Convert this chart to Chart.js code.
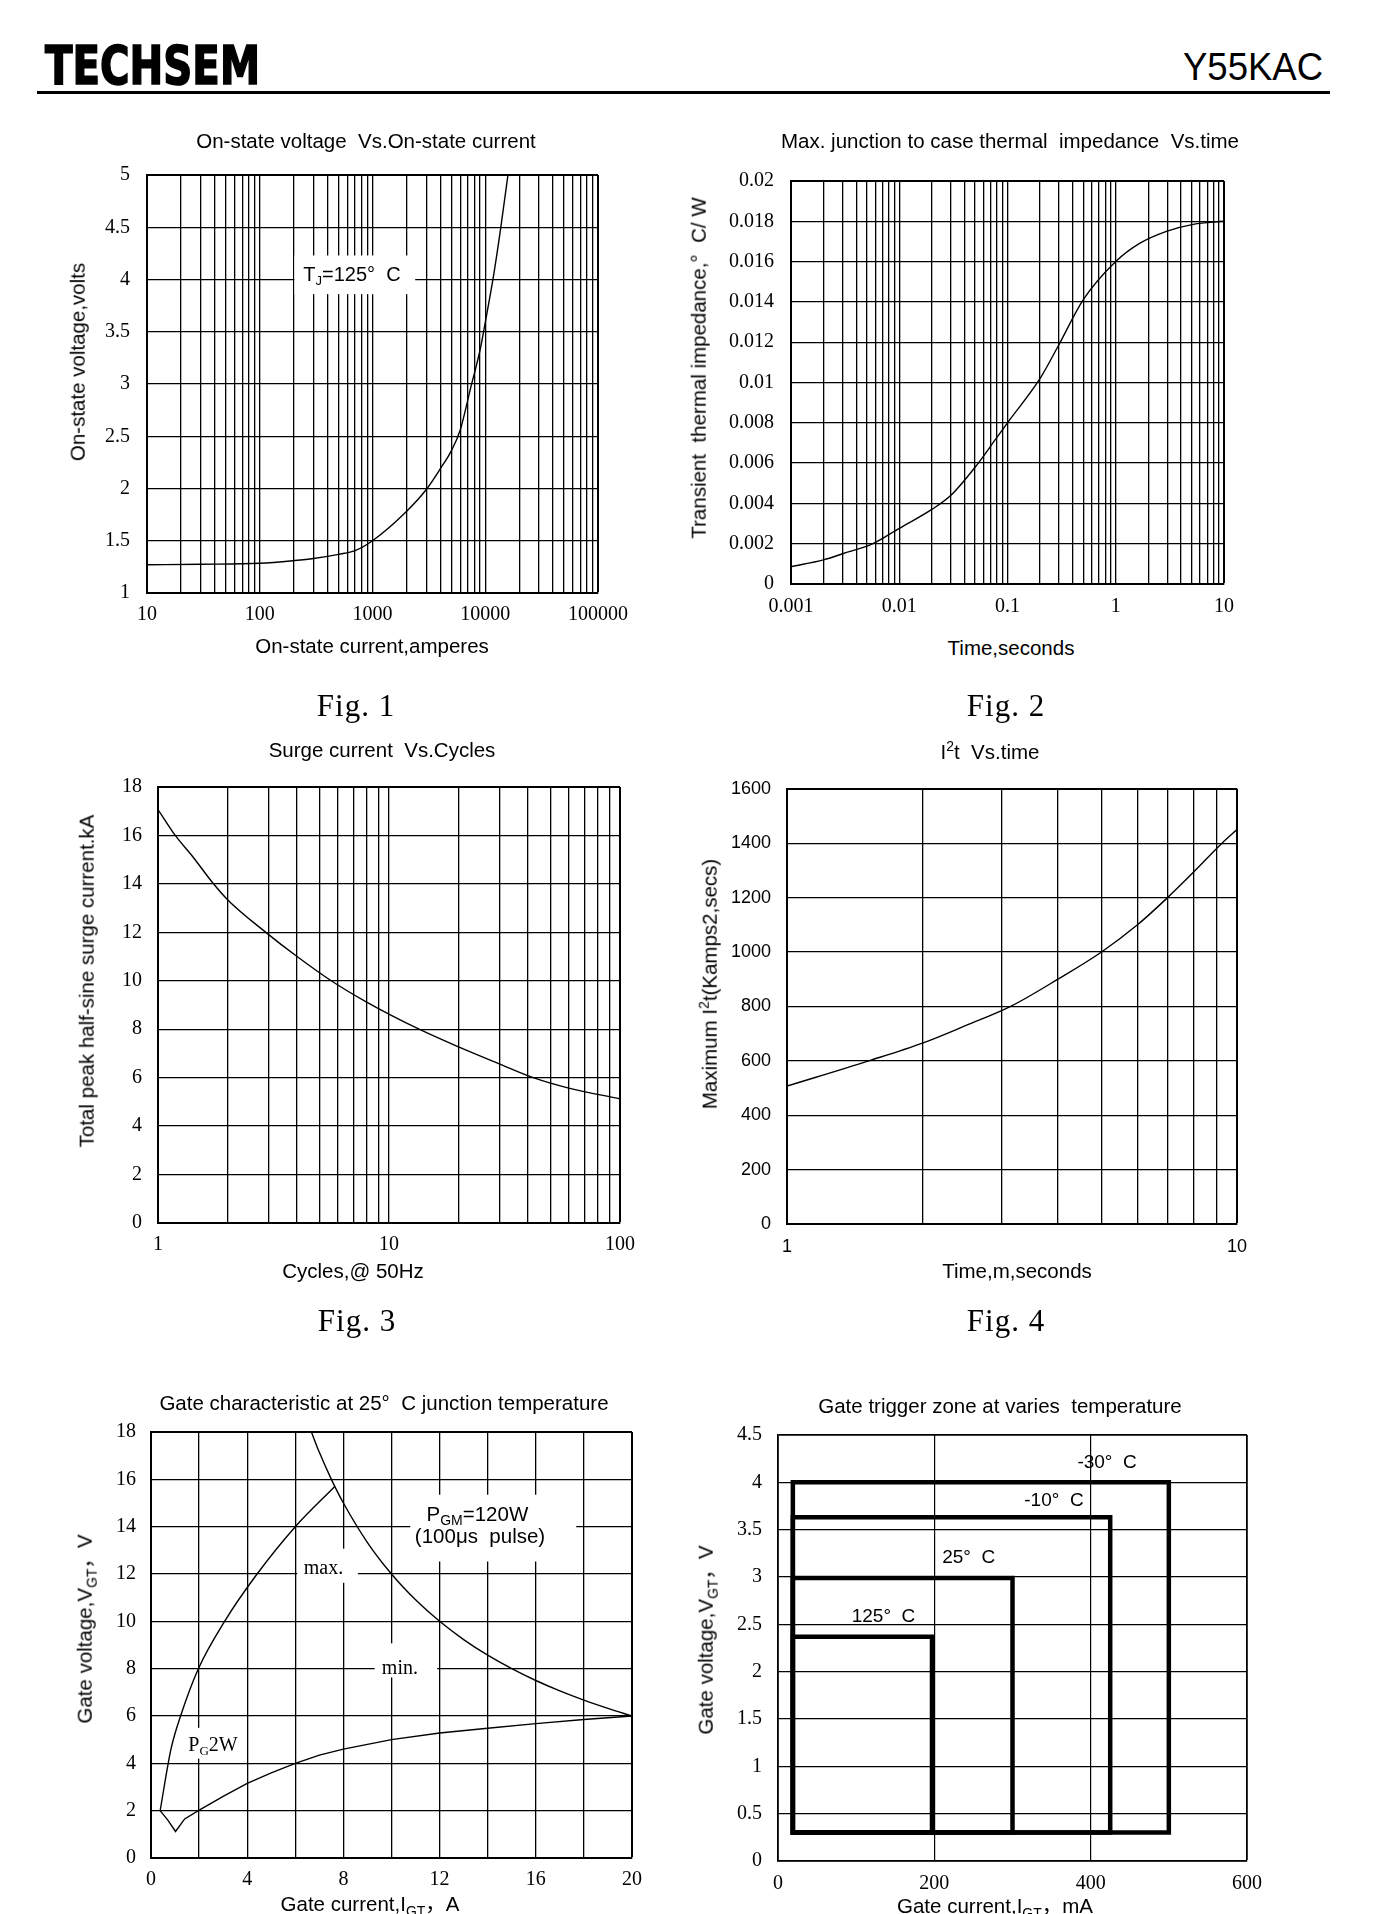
<!DOCTYPE html>
<html><head><meta charset="utf-8">
<script src="https://cdn.jsdelivr.net/npm/chart.js@4.4.1/dist/chart.umd.min.js"></script>
<style>
html,body{margin:0;padding:0;background:#fff;}
body{width:1376px;height:1914px;position:relative;overflow:hidden;font-family:"Liberation Sans",Arial,"Noto Sans CJK SC",sans-serif;color:#000;}
.abs{position:absolute;white-space:pre;line-height:1.2;}
.ttl{font-size:20.5px;transform:translate(-50%,-50%);}
.ytl{font-size:20.5px;transform:translate(-50%,-50%) rotate(-90deg);}
.fig{font-family:"Liberation Serif",serif;font-size:31px;letter-spacing:1px;transform:translate(-50%,-50%);}
sub,sup{font-size:0.68em;line-height:0;}
canvas{position:absolute;}
#logo{font-family:"Liberation Sans Narrow","DejaVu Sans Condensed","Liberation Sans",sans-serif;font-weight:bold;font-size:54px;line-height:1;left:45px;top:39px;transform-origin:left top;-webkit-text-stroke:1.6px #000;}
#part{font-family:"Liberation Sans",Arial,sans-serif;font-size:38px;line-height:1;left:1183px;top:48px;transform-origin:left top;}
#rule{position:absolute;left:37px;top:91px;width:1293px;height:2.5px;background:#000;}
</style></head><body>
<div id="logo" class="abs">TECHSEM</div>
<div id="part" class="abs">Y55KAC</div>
<div id="rule"></div>

<script>
// ---------------- DATA ----------------
// Fig.1 On-state voltage vs on-state current (Tj=125°C)
const fig1Current = [10, 30, 100, 200, 300, 500, 700, 1000, 2000, 3000, 4000, 5000, 6000, 7450, 9060, 10200, 11900, 13700, 15900];
const fig1Voltage = [1.27, 1.275, 1.285, 1.31, 1.33, 1.37, 1.405, 1.5, 1.78, 1.99, 2.19, 2.36, 2.56, 2.97, 3.34, 3.64, 4.05, 4.49, 5.0];
const fig1XLabelValues = [10, 100, 1000, 10000, 100000];
const fig1XLabels = ['10', '100', '1000', '10000', '100000'];
const fig1YTicks = [1, 1.5, 2, 2.5, 3, 3.5, 4, 4.5, 5];
const fig1YLabels = ['1', '1.5', '2', '2.5', '3', '3.5', '4', '4.5', '5'];

// Fig.2 Transient thermal impedance vs time
const fig2Time = [0.001, 0.002, 0.003, 0.0057, 0.01, 0.02, 0.03, 0.052, 0.078, 0.1, 0.2, 0.3, 0.5, 1, 1.66, 2.94, 5.2, 10];
const fig2Zth = [0.00086, 0.0012, 0.0015, 0.002, 0.00276, 0.0037, 0.0044, 0.0059, 0.0072, 0.008, 0.0102, 0.0119, 0.0141, 0.016, 0.0169, 0.0175, 0.01785, 0.018];
const fig2XLabelValues = [0.001, 0.01, 0.1, 1, 10];
const fig2XLabels = ['0.001', '0.01', '0.1', '1', '10'];
const fig2YTicks = [0, 0.002, 0.004, 0.006, 0.008, 0.01, 0.012, 0.014, 0.016, 0.018, 0.02];
const fig2YLabels = ['0', '0.002', '0.004', '0.006', '0.008', '0.01', '0.012', '0.014', '0.016', '0.018', '0.02'];

// Fig.3 Surge current vs cycles
const fig3Cycles = [1, 1.188, 1.42, 1.707, 2, 2.93, 4, 5.62, 8, 13.5, 20, 30, 42.1, 60, 100];
const fig3Current = [17.07, 16.0, 15.1, 14.1, 13.35, 12.0, 11.0, 10.0, 9.12, 8.0, 7.27, 6.57, 6.0, 5.57, 5.13];
const fig3XLabelValues = [1, 10, 100];
const fig3XLabels = ['1', '10', '100'];
const fig3YTicks = [0, 2, 4, 6, 8, 10, 12, 14, 16, 18];
const fig3YLabels = ['0', '2', '4', '6', '8', '10', '12', '14', '16', '18'];

// Fig.4 I2t vs time
const fig4Time = [1, 1.52, 2, 2.5, 3.14, 4, 5, 6, 7, 8, 9.26, 10];
const fig4I2t = [507, 600, 665, 730, 800, 900, 1000, 1099, 1199, 1293, 1400, 1450];
const fig4XLabelValues = [1, 10];
const fig4XLabels = ['1', '10'];
const fig4YTicks = [0, 200, 400, 600, 800, 1000, 1200, 1400, 1600];
const fig4YLabels = ['0', '200', '400', '600', '800', '1000', '1200', '1400', '1600'];

// Fig.5 Gate characteristic at 25°C
const gatePgmCurrent = [6.67, 7, 7.5, 8, 9, 10, 11, 12, 13, 14, 15, 16, 17, 18, 19, 20];
const gatePgmVoltage = [18, 17.14, 16, 15, 13.33, 12, 10.91, 10, 9.23, 8.57, 8, 7.5, 7.06, 6.67, 6.32, 6.0];
const gateMaxCurrent = [0.38, 0.83, 1.23, 1.97, 3.06, 4.41, 6.0, 7.64];
const gateMaxVoltage = [2.0, 4.6, 6.0, 8.0, 10.0, 12.0, 14.0, 15.7];
const gateMinCurrent = [0.38, 0.7, 1.02, 1.4, 1.97, 3.0, 4.0, 5.0, 6.0, 7.0, 8.0, 10, 12, 14, 16, 18, 20];
const gateMinVoltage = [2.0, 1.6, 1.12, 1.65, 2.0, 2.6, 3.15, 3.6, 4.0, 4.35, 4.6, 5.0, 5.28, 5.48, 5.68, 5.85, 6.0];
const fig5XTicks = [0, 2, 4, 6, 8, 10, 12, 14, 16, 18, 20];
const fig5XLabels = ['0', '', '4', '', '8', '', '12', '', '16', '', '20'];
const fig5YTicks = [0, 2, 4, 6, 8, 10, 12, 14, 16, 18];
const fig5YLabels = ['0', '2', '4', '6', '8', '10', '12', '14', '16', '18'];

// Fig.6 Gate trigger zone at various temperatures
const zoneNames = ['-30°  C', '-10°  C', '25°  C', '125°  C'];
const zoneIgtMin = 19;
const zoneVgtMin = 0.3;
const zoneIgtMax = [500, 425, 300, 197];
const zoneVgtMax = [4.0, 3.63, 2.99, 2.37];
const fig6XTicks = [0, 200, 400, 600];
const fig6XLabels = ['0', '200', '400', '600'];
const fig6YTicks = [0, 0.5, 1, 1.5, 2, 2.5, 3, 3.5, 4, 4.5];
const fig6YLabels = ['0', '0.5', '1', '1.5', '2', '2.5', '3', '3.5', '4', '4.5'];

// ---------------- HELPERS ----------------
const SERIF = '"Liberation Serif", "DejaVu Serif", serif';
const SANS = '"Liberation Sans", Arial, sans-serif';
const TICK = 20;

function logGridValues(minV, maxV) {
  const out = [];
  for (let d = minV; d < maxV * 0.999; d *= 10) {
    for (let k = 1; k <= 9; k++) out.push(+(d * k).toPrecision(6));
  }
  out.push(maxV);
  return out;
}
function near(a, b) { return Math.abs(a - b) <= 1e-9 * Math.max(1e-12, Math.abs(a), Math.abs(b)); }

function axis(opt) {
  const {type, min, max, vals, labelVals, labels, horizontal, family, size, pad, gridW, edgeW} = opt;
  return {
    type, min, max,
    afterBuildTicks: s => { s.ticks = vals.map(v => ({value: v})); },
    afterFit: s => { if (horizontal) s.height = 45; else s.width = 90; },
    ticks: {
      autoSkip: false, maxRotation: 0, minRotation: 0, color: '#000', padding: pad,
      font: {family, size},
      callback: (v) => { const i = labelVals.findIndex(x => near(x, v)); return i >= 0 ? labels[i] : ''; }
    },
    grid: {
      color: '#000', drawTicks: false,
      lineWidth: ctx => (ctx.tick && near(ctx.tick.value, max)) ? (edgeW || 2) : (gridW || 1.3)
    },
    border: {display: true, color: '#000', width: edgeW || 2}
  };
}

function drawRuns(ctx, runs, cx, cy, family, size) {
  const subSize = Math.round(size * 0.66);
  const widths = [];
  let total = 0;
  runs.forEach(r => { ctx.font = (r.sub ? subSize : size) + 'px ' + family; const w = ctx.measureText(r.t).width; widths.push(w); total += w; });
  let xx = cx - total / 2;
  const base = cy + size * 0.35;
  ctx.fillStyle = '#000'; ctx.textAlign = 'left'; ctx.textBaseline = 'alphabetic';
  runs.forEach((r, i) => {
    ctx.font = (r.sub ? subSize : size) + 'px ' + family;
    ctx.fillText(r.t, xx, r.sub ? base + size * 0.2 : base);
    xx += widths[i];
  });
}

function textPlugin(items) {
  return {
    id: 'txt',
    beforeDatasetsDraw(chart) {
      const {ctx} = chart; const x = chart.scales.x, y = chart.scales.y;
      ctx.save();
      items.forEach(it => {
        if (!it.box) return;
        const x0 = x.getPixelForValue(it.box[0]), x1 = x.getPixelForValue(it.box[1]);
        const y0 = y.getPixelForValue(it.box[2]), y1 = y.getPixelForValue(it.box[3]);
        ctx.fillStyle = '#fff';
        ctx.fillRect(Math.min(x0, x1), Math.min(y0, y1), Math.abs(x1 - x0), Math.abs(y1 - y0));
      });
      items.forEach(it => drawRuns(ctx, it.runs, x.getPixelForValue(it.x), y.getPixelForValue(it.y), it.family, it.size));
      ctx.restore();
    }
  };
}

function pts(xs, ys) { return xs.map((x, i) => ({x, y: ys[i]})); }

function makeChart(box, datasets, xAxis, yAxis, items) {
  const c = document.createElement('canvas');
  const left = box.L - 90, top = box.T - 20;
  const w = box.R - box.L + 90 + 55, h = box.B - box.T + 20 + 45;
  c.style.left = left + 'px'; c.style.top = top + 'px';
  c.style.width = w + 'px'; c.style.height = h + 'px';
  c.width = w; c.height = h;
  document.body.appendChild(c);
  return new Chart(c, {
    type: 'scatter',
    data: {datasets},
    options: {
      responsive: false, animation: false, events: [],
      layout: {padding: {left: 0, top: 20, right: 55, bottom: 0}},
      plugins: {legend: {display: false}, tooltip: {enabled: false}},
      scales: {x: xAxis, y: yAxis}
    },
    plugins: [textPlugin(items || [])]
  });
}

function line(data, opts) {
  return Object.assign({data, showLine: true, borderColor: '#000', borderWidth: 1.4, pointRadius: 0, fill: false,
    cubicInterpolationMode: 'monotone'}, opts || {});
}

// ---------------- CHART 1 ----------------
makeChart({L: 147, T: 166, R: 598, B: 593},
  [line(pts(fig1Current, fig1Voltage))],
  axis({type: 'logarithmic', min: 10, max: 100000, vals: logGridValues(10, 100000), labelVals: fig1XLabelValues, labels: fig1XLabels, horizontal: true, family: SERIF, size: TICK, pad: 10}),
  axis({type: 'linear', min: 1, max: 5, vals: fig1YTicks, labelVals: fig1YTicks, labels: fig1YLabels, horizontal: false, family: SERIF, size: TICK, pad: 17}),
  [{x: 658, y: 4.05, box: [203, 2390, 3.86, 4.23], runs: [{t: 'T'}, {t: 'J', sub: true}, {t: '=125°  C'}], family: SANS, size: 20}]
);

// ---------------- CHART 2 ----------------
makeChart({L: 791, T: 172, R: 1224, B: 584},
  [line(pts(fig2Time, fig2Zth))],
  axis({type: 'logarithmic', min: 0.001, max: 10, vals: logGridValues(0.001, 10), labelVals: fig2XLabelValues, labels: fig2XLabels, horizontal: true, family: SERIF, size: TICK, pad: 11}),
  axis({type: 'linear', min: 0, max: 0.02, vals: fig2YTicks, labelVals: fig2YTicks, labels: fig2YLabels, horizontal: false, family: SERIF, size: TICK, pad: 17})
);

// ---------------- CHART 3 ----------------
makeChart({L: 158, T: 779, R: 620, B: 1223},
  [line(pts(fig3Cycles, fig3Current))],
  axis({type: 'logarithmic', min: 1, max: 100, vals: logGridValues(1, 100), labelVals: fig3XLabelValues, labels: fig3XLabels, horizontal: true, family: SERIF, size: TICK, pad: 10}),
  axis({type: 'linear', min: 0, max: 18, vals: fig3YTicks, labelVals: fig3YTicks, labels: fig3YLabels, horizontal: false, family: SERIF, size: TICK, pad: 16})
);

// ---------------- CHART 4 ----------------
makeChart({L: 787, T: 782, R: 1237, B: 1224},
  [line(pts(fig4Time, fig4I2t))],
  axis({type: 'logarithmic', min: 1, max: 10, vals: logGridValues(1, 10), labelVals: fig4XLabelValues, labels: fig4XLabels, horizontal: true, family: SANS, size: 18, pad: 12}),
  axis({type: 'linear', min: 0, max: 1600, vals: fig4YTicks, labelVals: fig4YTicks, labels: fig4YLabels, horizontal: false, family: SANS, size: 18, pad: 16})
);

// ---------------- CHART 5 ----------------
makeChart({L: 151, T: 1425, R: 632, B: 1858},
  [line(pts(gatePgmCurrent, gatePgmVoltage)),
   line(pts(gateMaxCurrent, gateMaxVoltage)),
   line(pts(gateMinCurrent, gateMinVoltage), {cubicInterpolationMode: 'default', tension: 0})],
  axis({type: 'linear', min: 0, max: 20, vals: fig5XTicks, labelVals: fig5XTicks, labels: fig5XLabels, horizontal: true, family: SERIF, size: TICK, pad: 10}),
  axis({type: 'linear', min: 0, max: 18, vals: fig5YTicks, labelVals: fig5YTicks, labels: fig5YLabels, horizontal: false, family: SERIF, size: TICK, pad: 15}),
  [
    {x: 7.17, y: 12.3, box: [6.08, 8.6, 11.63, 13.07], runs: [{t: 'max.'}], family: SERIF, size: 20},
    {x: 10.35, y: 8.09, box: [9.3, 11.9, 7.63, 9.07], runs: [{t: 'min.'}], family: SERIF, size: 20},
    {x: 13.57, y: 14.55, box: [10.78, 17.68, 12.53, 15.35], runs: [{t: 'P'}, {t: 'GM', sub: true}, {t: '=120W'}], family: SANS, size: 20.5},
    {x: 13.68, y: 13.61, runs: [{t: '(100μs  pulse)'}], family: SANS, size: 20.5},
    {x: 2.58, y: 4.83, box: [1.75, 3.5, 4.2, 5.5], runs: [{t: 'P'}, {t: 'G', sub: true}, {t: '2W'}], family: SERIF, size: 20}
  ]
);

// ---------------- CHART 6 ----------------
const zoneLabelPos = [[421, 4.22], [353, 3.82], [244, 3.22], [135, 2.59]];
makeChart({L: 778, T: 1427, R: 1247, B: 1861},
  zoneIgtMax.map((imax, k) => line(
    [{x: zoneIgtMin, y: zoneVgtMin}, {x: zoneIgtMin, y: zoneVgtMax[k]}, {x: imax, y: zoneVgtMax[k]}, {x: imax, y: zoneVgtMin}, {x: zoneIgtMin, y: zoneVgtMin}],
    {borderWidth: 4.5, cubicInterpolationMode: 'default', tension: 0, borderJoinStyle: 'miter', borderCapStyle: 'square'})),
  axis({type: 'linear', min: 0, max: 600, vals: fig6XTicks, labelVals: fig6XTicks, labels: fig6XLabels, horizontal: true, family: SERIF, size: TICK, pad: 11, gridW: 1.2, edgeW: 1.8}),
  axis({type: 'linear', min: 0, max: 4.5, vals: fig6YTicks, labelVals: fig6YTicks, labels: fig6YLabels, horizontal: false, family: SERIF, size: TICK, pad: 16, gridW: 1.2, edgeW: 1.8}),
  zoneNames.map((n, k) => ({x: zoneLabelPos[k][0], y: zoneLabelPos[k][1], runs: [{t: n}], family: SANS, size: 19}))
);

// ---------------- TEXT ----------------
function addText(cls, html, cx, cy) {
  const d = document.createElement('div');
  d.className = 'abs ' + cls;
  d.innerHTML = html;
  d.style.left = cx + 'px'; d.style.top = cy + 'px';
  document.body.appendChild(d);
}
addText('ttl', 'On-state voltage  Vs.On-state current', 366, 141);
addText('ttl', 'Max. junction to case thermal  impedance  Vs.time', 1010, 141);
addText('ttl', 'Surge current  Vs.Cycles', 382, 750);
addText('ttl', 'I<sup>2</sup>t  Vs.time', 990, 752);
addText('ttl', 'Gate characteristic at 25°  C junction temperature', 384, 1403);
addText('ttl', 'Gate trigger zone at varies  temperature', 1000, 1406);

addText('ttl', 'On-state current,amperes', 372, 646);
addText('ttl', 'Time,seconds', 1011, 648);
addText('ttl', 'Cycles,@ 50Hz', 353, 1271);
addText('ttl', 'Time,m,seconds', 1017, 1271);
addText('ttl', 'Gate current,I<sub>GT</sub>，A', 370, 1904);
addText('ttl', 'Gate current,I<sub>GT</sub>，mA', 995, 1906);

addText('ytl', 'On-state voltage,volts', 78, 362);
addText('ytl', 'Transient  thermal impedance,°  C/ W', 699, 368);
addText('ytl', 'Total peak half-sine surge current.kA', 87, 981);
addText('ytl', 'Maximum I<sup>2</sup>t(Kamps2,secs)', 710, 984);
addText('ytl', 'Gate voltage,V<sub>GT</sub>，V', 85, 1629);
addText('ytl', 'Gate voltage,V<sub>GT</sub>，V', 706, 1640);

addText('fig', 'Fig. 1', 356, 706);
addText('fig', 'Fig. 2', 1006, 706);
addText('fig', 'Fig. 3', 357, 1321);
addText('fig', 'Fig. 4', 1006, 1321);

// header fitting
function fitW(id, target) {
  const el = document.getElementById(id);
  const w = el.getBoundingClientRect().width;
  el.style.transform = 'scaleX(' + (target / w) + ')';
}
fitW('logo', 215);
fitW('part', 140);
</script>
</body></html>
